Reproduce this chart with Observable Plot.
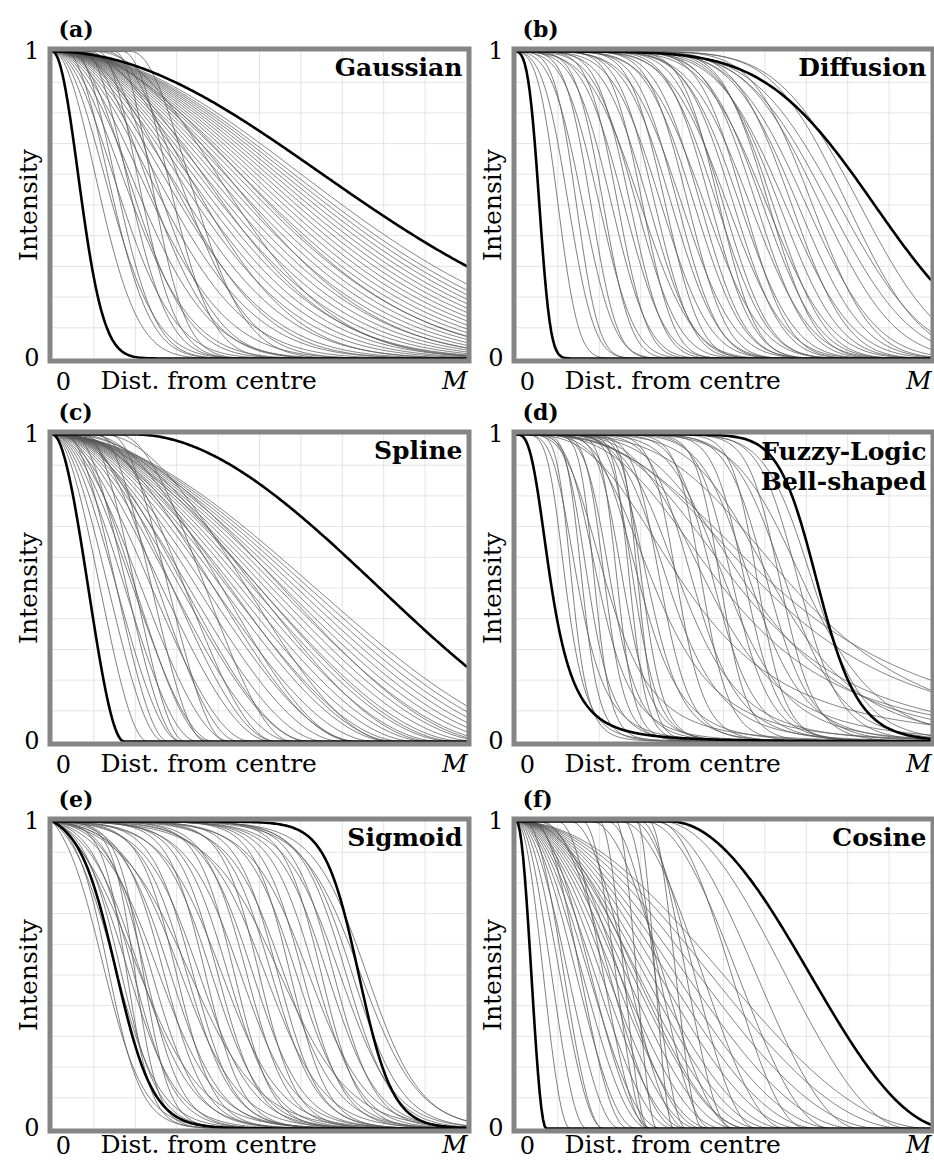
<!DOCTYPE html>
<html><head><meta charset="utf-8">
<script src="https://cdn.jsdelivr.net/npm/d3@7"></script>
<script src="https://cdn.jsdelivr.net/npm/@observablehq/plot@0.6"></script>
<style>
body{margin:0;background:#fff;}
#fig{position:relative;width:934px;height:1160px;overflow:hidden;background:#fff;}
.panel{position:absolute;width:470px;height:390px;}
</style></head><body><div id="fig"></div>
<script>
// ---- labels / ticks ----
const panelLabels = ["(a)", "(b)", "(c)", "(d)", "(e)", "(f)"];
const panelTitles = ["Gaussian", "Diffusion", "Spline", "Fuzzy-Logic\nBell-shaped", "Sigmoid", "Cosine"];
const yAxisLabel = "Intensity";
const xAxisLabel = "Dist. from centre";
const M = 10;                       // distance axis runs 0 .. M
const yTicks = [0, 1];
const xTickStart = ["0"];
const xTickEnd = ["M"];
const gridXs = [1, 2, 3, 4, 5, 6, 7, 8, 9];
const gridYs = [0.1, 0.2, 0.3, 0.4, 0.5, 0.6, 0.7, 0.8, 0.9];

// ---- per-curve parameters ----
// Gaussian: [plateau end c, half-intensity distance h beyond c]
const gaussianThick = [[0, 0.72], [0, 7.6]];
const gaussianThin = [[0,1.2],[0.3,1.2],[0,1.45],[0.5,1.15],[0,1.7],[0.75,1.2],[0,1.95],[0.35,1.7],[1.1,1.1],[0,2.2],[0.6,1.9],[0,2.45],[1.5,1.0],[0,2.7],[0.9,1.8],[0,2.9],[1.7,1.25],[0,3.1],[0.4,2.8],[0,3.3],[1.3,2.0],[0,3.5],[0,3.65],[0.7,3.0],[0,3.8],[1.9,1.6],[0,3.95],[0,4.1],[0.45,3.7],[0,4.25],[0,4.4],[1.05,3.4],[0,4.55],[0,4.7],[0.5,4.3],[0,4.85],[0,5.0],[0,5.15],[0.25,5.0],[0,5.3],[0,5.45],[0,5.6],[0,5.75],[0,5.9],[0,6.05],[0,6.2],[0,6.35],[0,6.5],[0,6.65],[0,6.8],[0,7.0]];
// Diffusion: [radius R, spread s]
const diffusionThick = [[0.55, 0.3], [8.65, 2.93]];
const diffusionThin = [[1.0,0.55],[1.25,0.7],[1.45,0.6],[1.6,0.85],[1.8,0.7],[2.0,0.95],[2.1,0.75],[2.3,1.0],[2.45,0.8],[2.6,1.1],[2.75,0.9],[2.9,1.15],[3.0,1.4],[3.05,0.85],[3.2,1.2],[3.35,1.0],[3.5,1.3],[3.6,0.95],[3.75,1.25],[3.9,1.1],[4.0,1.4],[4.15,1.05],[4.3,1.3],[4.45,1.2],[4.55,1.5],[4.7,1.15],[4.85,1.35],[4.9,1.0],[5.0,1.25],[5.1,1.55],[5.25,1.3],[5.4,1.45],[5.5,1.2],[5.65,1.6],[5.8,1.35],[5.95,1.5],[6.05,1.7],[6.1,1.25],[6.2,1.4],[6.35,1.6],[6.5,1.8],[6.65,1.5],[6.8,1.75],[7.0,1.9],[7.15,1.6],[7.35,2.0],[7.55,2.2],[7.8,2.3],[8.0,2.0],[8.3,2.2]];
// Spline: [plateau end c, support width w]
const splineThick = [[0, 1.73], [2.0, 11.8]];
const splineThin = [[0,2.3],[0,2.7],[0.3,2.5],[0,3.1],[0.5,2.6],[0,3.5],[0.8,2.4],[0,3.9],[0.2,3.6],[0,4.3],[1.1,2.6],[0,4.8],[0.6,3.9],[0,5.3],[1.4,2.8],[0,5.8],[0.4,5.0],[0,6.2],[1.0,4.4],[0,6.6],[0.2,6.0],[0,7.0],[1.6,4.2],[0,7.4],[0.5,6.8],[0,7.8],[0.9,6.4],[0,8.2],[0,8.5],[0.3,8.0],[0,8.8],[1.2,7.0],[0,9.1],[0,9.4],[0.6,8.6],[0,9.7],[0,10.0],[0.2,9.6],[0,10.3],[0,10.6],[0,10.9],[0.4,10.3],[0,11.2],[0,11.5],[0,11.8],[0,12.1],[0,12.4],[0,12.7]];
// Fuzzy-logic bell: [half-width a, slope b]
const fuzzyThick = [[0.85, 1.46], [7.3, 7.5]];
const fuzzyThin = [[1.2,2.5],[1.35,3.5],[1.5,2.2],[1.6,4],[1.75,3],[1.9,5],[2.0,2.5],[2.15,4.5],[2.2,2.0],[2.3,3.5],[2.45,6],[2.6,4],[2.75,7],[2.85,5],[2.95,8],[3.0,3.0],[3.05,6],[3.2,4],[3.35,2.2],[3.5,5],[3.7,3],[3.9,6],[4.0,2.8],[4.1,1.6],[4.3,4],[4.5,7],[4.65,2.5],[4.8,5],[4.95,8],[5.0,1.7],[5.1,3.5],[5.25,6],[5.4,1.8],[5.55,7],[5.6,2.2],[5.7,4.5],[5.85,9],[6.0,1.6],[6.1,6],[6.25,3],[6.3,1.5],[6.4,8],[6.55,5],[6.7,2],[6.85,7],[7.0,4],[7.2,6]];
// Sigmoid: [midpoint m, scale s]
const sigmoidThick = [[1.53, 0.45], [7.4, 0.41]];
const sigmoidThin = [[1.2,0.5],[1.35,0.4],[1.5,0.55],[1.65,0.45],[1.8,0.3],[1.8,0.6],[1.95,0.5],[2.0,0.28],[2.0,0.8],[2.1,0.65],[2.2,0.32],[2.25,0.45],[2.4,0.55],[2.55,0.7],[2.7,0.5],[2.85,0.6],[3.0,0.45],[3.1,0.7],[3.25,0.55],[3.3,0.85],[3.4,0.5],[3.55,0.65],[3.7,0.45],[3.85,0.6],[4.0,0.5],[4.1,0.7],[4.25,0.55],[4.4,0.45],[4.55,0.65],[4.7,0.5],[4.85,0.6],[5.0,0.45],[5.15,0.7],[5.3,0.55],[5.45,0.5],[5.5,0.85],[5.6,0.65],[5.75,0.45],[5.9,0.6],[6.05,0.5],[6.2,0.7],[6.35,0.55],[6.5,0.45],[6.65,0.6],[6.8,0.5],[6.95,0.65],[7.1,0.55],[7.25,0.6],[7.45,0.7],[7.6,0.65]];
// Cosine: [plateau end c, fall width w]
const cosineThick = [[0, 0.72], [3.7, 6.8]];
const cosineThin = [[0,1.3],[0,1.7],[0,2.1],[0.2,1.9],[0,2.5],[0,2.9],[0.4,2.3],[0,3.2],[0,3.5],[0.3,3.0],[0,3.8],[0,4.1],[0.6,3.3],[0,4.4],[0,4.7],[0.5,4.0],[0,5.0],[0,5.3],[0,5.6],[0.2,5.4],[0,5.9],[0,6.2],[0,6.5],[0,6.9],[0,7.3],[0,7.7],[0,8.2],[0,8.8],[0,9.4],[0,10.0],[1.0,2.2],[1.3,2.8],[1.6,1.6],[1.8,3.5],[2.0,1.2],[2.2,2.5],[2.4,1.0],[2.5,4.0],[2.6,1.5],[2.8,3.0],[2.9,0.9],[3.0,2.2],[3.1,4.5],[3.2,1.3],[3.3,5.0],[3.4,3.6],[3.5,6.0]];

// ---- kernel shapes named by the panel titles ----
function erf(x) {
  const s = Math.sign(x); x = Math.abs(x);
  const t = 1 / (1 + 0.3275911 * x);
  const y = 1 - (((((1.061405429 * t - 1.453152027) * t) + 1.421413741) * t - 0.284496736) * t + 0.254829592) * t * Math.exp(-x * x);
  return s * y;
}
const kernels = [
  (x, c, h) => x <= c ? 1 : Math.exp(-Math.LN2 * ((x - c) / h) ** 2),
  (x, R, s) => (erf((R - x) / s) + erf((R + x) / s)) / (2 * erf(R / s)),
  (x, c, w) => { const t = (x - c) / w; return t <= 0 ? 1 : t >= 1 ? 0 : 1 - 3 * t * t + 2 * t * t * t; },
  (x, a, b) => 1 / (1 + Math.pow(x / a, 2 * b)),
  (x, m, s) => (1 + Math.exp(-m / s)) / (1 + Math.exp((x - m) / s)),
  (x, c, w) => { const t = (x - c) / w; return t <= 0 ? 1 : t >= 1 ? 0 : 0.5 * (1 + Math.cos(Math.PI * t)); }
];
const thinSets = [gaussianThin, diffusionThin, splineThin, fuzzyThin, sigmoidThin, cosineThin];
const thickSets = [gaussianThick, diffusionThick, splineThick, fuzzyThick, sigmoidThick, cosineThick];

const xSamples = d3.range(0, M + 1e-9, M / 250);
function build(params, f) {
  return params.flatMap((p, i) => xSamples.map(x => ({x, y: f(x, p[0], p[1]), id: i})));
}

const FONT = '"DejaVu Serif", "Liberation Serif", serif';
const offsets = [[0, 0], [464, 0], [0, 383], [464, 383], [0, 770], [464, 770]];

function panel(i) {
  const f = kernels[i];
  const nLines = panelTitles[i].split("\n").length;
  const lastRow = i >= 4;
  const xdy = lastRow ? 25 : 31;
  return Plot.plot({
    width: 470, height: 390,
    marginLeft: 52, marginRight: 4, marginTop: 51, marginBottom: 32,
    x: {domain: [0, M], axis: null},
    y: {domain: [0, 1], axis: null},
    style: {fontFamily: FONT, background: "transparent", overflow: "visible", color: "#000"},
    marks: [
      Plot.ruleX(gridXs, {x: d => d, stroke: "#e4e4e4", strokeWidth: 1}),
      Plot.ruleY(gridYs, {y: d => d, stroke: "#e4e4e4", strokeWidth: 1}),
      Plot.line(build(thinSets[i], f), {x: "x", y: "y", z: "id", stroke: "#555", strokeWidth: 0.75}),
      Plot.line(build(thickSets[i], f), {x: "x", y: "y", z: "id", stroke: "#000", strokeWidth: 2.6}),
      Plot.frame({stroke: "#858585", strokeWidth: 5, inset: -2.5}),
      Plot.text(yTicks, {y: d => d, text: d => String(d), frameAnchor: "left", textAnchor: "end", dx: -13, fontSize: 24}),
      Plot.text(xTickStart, {x: () => 0, text: d => d, frameAnchor: "bottom", textAnchor: "middle", lineAnchor: "bottom", dx: 11, dy: xdy, fontSize: 24}),
      Plot.text(xTickEnd, {x: () => M, text: d => d, frameAnchor: "bottom", textAnchor: "end", lineAnchor: "bottom", dx: 1, dy: xdy - 1, fontSize: 25, fontStyle: "italic"}),
      Plot.text([xAxisLabel], {text: d => d, frameAnchor: "bottom-left", textAnchor: "start", lineAnchor: "bottom", dx: 48, dy: xdy - 1, fontSize: 25}),
      Plot.text([yAxisLabel], {text: d => d, frameAnchor: "left", textAnchor: "middle", lineAnchor: "middle", rotate: -90, dx: -24, fontSize: 25}),
      Plot.text([panelTitles[i]], {text: d => d, frameAnchor: "top-right", textAnchor: "end", lineAnchor: "bottom", dx: -4, dy: nLines > 1 ? 55 : 24, lineHeight: 1.2, fontSize: 25, fontWeight: "bold"}),
      Plot.text([panelLabels[i]], {text: d => d, frameAnchor: "top-left", textAnchor: "start", lineAnchor: "bottom", dx: 6, dy: -15, fontSize: 22, fontWeight: "bold"})
    ]
  });
}

const fig = document.getElementById("fig");
for (let i = 0; i < 6; i++) {
  const div = document.createElement("div");
  div.className = "panel";
  div.style.left = offsets[i][0] + "px";
  div.style.top = offsets[i][1] + "px";
  div.appendChild(panel(i));
  fig.appendChild(div);
}
</script></body></html>
